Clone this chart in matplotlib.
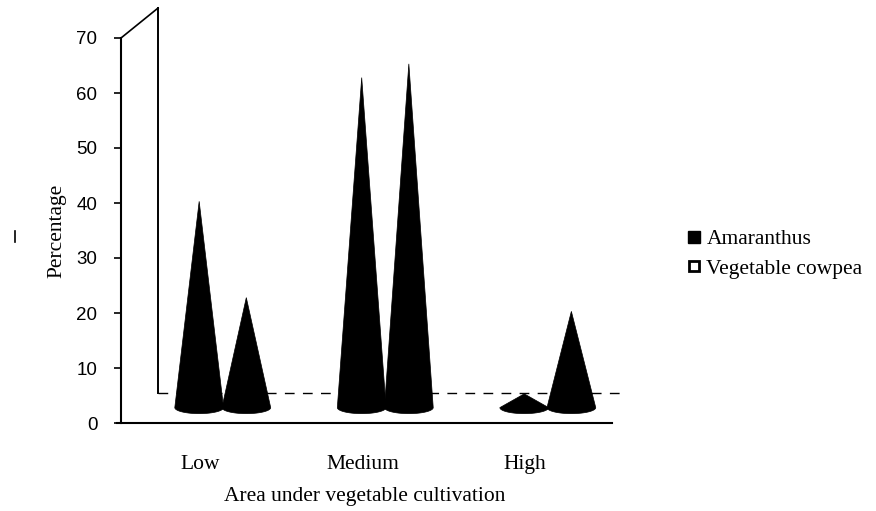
import numpy as np
import matplotlib
matplotlib.use("Agg")
import matplotlib.pyplot as plt
from matplotlib.patches import Polygon
from matplotlib.lines import Line2D

# ---- data ----
categories = ["Low", "Medium", "High"]
series_names = ["Amaranthus", "Vegetable cowpea"]
amaranthus = [37.5, 60.0, 2.5]
cowpea = [20.0, 62.5, 17.5]
y_ticks = [0, 10, 20, 30, 40, 50, 60, 70]

plt.rcParams["font.family"] = ["Liberation Serif", "DejaVu Serif"]
FS = 15.5

fig = plt.figure(figsize=(8.76, 5.11), dpi=100)
ax = fig.add_axes([121 / 876, 1 - 423 / 511, 491 / 876, 385 / 511])

xleft, xright = -0.486, 2.535
ax.set_xlim(xleft, xright)
ax.set_ylim(0, 70)

# 3D-like geometry (in data units)
depth_dx_back, depth_dy_back = 0.228, 5.45
depth_dx_mid, depth_dy_mid = 0.14, 2.8
pair_off = 0.145
half_w = 0.15
ell_h = 1.1

x = np.arange(len(categories))

# back wall and floor
ax.plot([xleft + depth_dx_back, xleft + depth_dx_back], [depth_dy_back, 70 + depth_dy_back],
        color="black", lw=1.4, clip_on=False, zorder=1)
ax.plot([xleft, xleft + depth_dx_back], [70, 70 + depth_dy_back],
        color="black", lw=1.2, clip_on=False, zorder=1)
ax.plot([xleft + depth_dx_back, xright + 0.092], [depth_dy_back, depth_dy_back],
        color="black", lw=1.0, ls=(0, (7, 6)), clip_on=False, zorder=1)


def cone(cx, val):
    t = np.linspace(np.pi, 2 * np.pi, 40)
    base = depth_dy_mid
    pts = [(cx - half_w, base)]
    pts += list(zip(cx + half_w * np.cos(t), base + ell_h * np.sin(t)))
    pts += [(cx + half_w, base), (cx, base + val)]
    return Polygon(pts, closed=True, facecolor="black", edgecolor="black", lw=0.5, zorder=3)


for i in range(len(categories)):
    ax.add_patch(cone(x[i] + depth_dx_mid - pair_off, amaranthus[i]))
    ax.add_patch(cone(x[i] + depth_dx_mid + pair_off, cowpea[i]))

# axes styling
for s in ["top", "right"]:
    ax.spines[s].set_visible(False)
ax.spines["left"].set_linewidth(1.5)
ax.spines["bottom"].set_linewidth(1.5)
ax.spines["bottom"].set_bounds(xleft - 0.025, xright)

ax.set_yticks(y_ticks)
ax.set_yticklabels([str(v) for v in y_ticks], fontsize=13.5,
                   family=["Liberation Sans", "DejaVu Sans"])
ax.tick_params(axis="y", direction="out", length=5, width=1.2, pad=12)
ax.set_xticks(x)
ax.set_xticklabels(categories, fontsize=FS)
ax.tick_params(axis="x", length=0, pad=23)

ax.set_ylabel("Percentage", fontsize=FS)
ax.yaxis.set_label_coords(-0.112, 0.5)
ax.set_xlabel("Area under vegetable cultivation", fontsize=FS)
ax.xaxis.set_label_coords(0.497, -0.165)

# legend
h1 = Line2D([], [], marker="s", color="none", markerfacecolor="black",
            markeredgecolor="black", markersize=8)
h2 = Line2D([], [], marker="s", color="none", markerfacecolor="white",
            markeredgecolor="black", markeredgewidth=2.0, markersize=7.5)
fig.legend([h1, h2], series_names, loc="center left",
           bbox_to_anchor=(686 / 876, 1 - 254 / 511), frameon=False,
           fontsize=FS, handlelength=0.7, handletextpad=0.25,
           labelspacing=0.42, borderpad=0, borderaxespad=0)

# stray scan mark
fig.add_artist(Line2D([15 / 876, 15 / 876], [1 - 242 / 511, 1 - 231 / 511],
                      color="black", lw=1.2))

fig.savefig("out.png", dpi=100)
